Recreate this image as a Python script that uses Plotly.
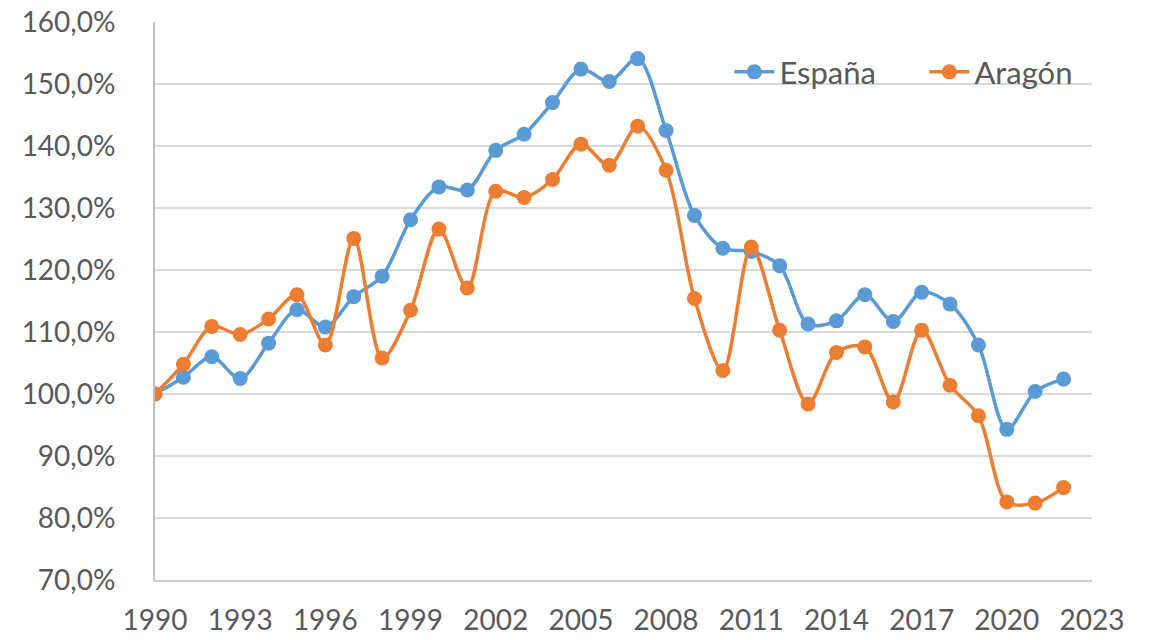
import plotly.graph_objects as go

years = list(range(1990, 2023))
espana = [100.0, 102.7, 106.0, 102.5, 108.2, 113.6, 110.8, 115.7, 119.0, 128.1,
          133.4, 132.9, 139.3, 141.9, 147.0, 152.4, 150.4, 154.1, 142.5, 128.8,
          123.5, 123.0, 120.7, 111.3, 111.8, 116.0, 111.7, 116.4, 114.5, 107.9,
          94.3, 100.4, 102.4]
aragon = [100.0, 104.8, 110.9, 109.6, 112.1, 116.0, 107.9, 125.1, 105.8, 113.5,
          126.6, 117.1, 132.7, 131.7, 134.6, 140.3, 136.9, 143.2, 136.1, 115.4,
          103.8, 123.7, 110.3, 98.4, 106.7, 107.6, 98.7, 110.3, 101.4, 96.5,
          82.6, 82.4, 84.9]
series_names = ["España", "Aragón"]
colors = ["#5B9BD5", "#ED7D31"]

fig = go.Figure()
for name, vals, col in zip(series_names, [espana, aragon], colors):
    fig.add_trace(go.Scatter(
        x=years, y=vals, name=name, mode="lines+markers",
        line=dict(color=col, width=3.5, shape="spline", smoothing=0.9),
        marker=dict(color=col, size=15),
    ))

font_family = "Lato, Carlito, Calibri, sans-serif"
fig.update_layout(
    width=1151, height=640,
    margin=dict(l=155, r=59, t=22, b=60, autoexpand=False),
    paper_bgcolor="white", plot_bgcolor="white",
    separators=",.",
    font=dict(family=font_family, size=28, color="#595959"),
    showlegend=True,
    legend=dict(orientation="h", x=0.613, y=0.91, xanchor="left", yanchor="middle",
                bgcolor="rgba(0,0,0,0)", font=dict(size=31, color="#595959"),
                itemwidth=40, entrywidth=140),
    xaxis=dict(range=[1990, 2023], tick0=1990, dtick=3, showgrid=False,
               zeroline=False, showline=True, linecolor="#D0D0D0", linewidth=2,
               ticks="", automargin=False,
               tickfont=dict(size=28, color="#595959"), ticklabelstandoff=14),
    yaxis=dict(range=[70, 160], dtick=10, tickformat=".1f", ticksuffix="%",
               showgrid=True, gridcolor="#D9D9D9", gridwidth=2, zeroline=False,
               showline=True, linecolor="#BFBFBF", linewidth=2, ticks="",
               automargin=False,
               tickfont=dict(size=28, color="#595959"), ticklabelstandoff=32),
)

fig.write_html("out.html", config={"displayModeBar": False},
               post_script="document.body.style.margin='0';")
